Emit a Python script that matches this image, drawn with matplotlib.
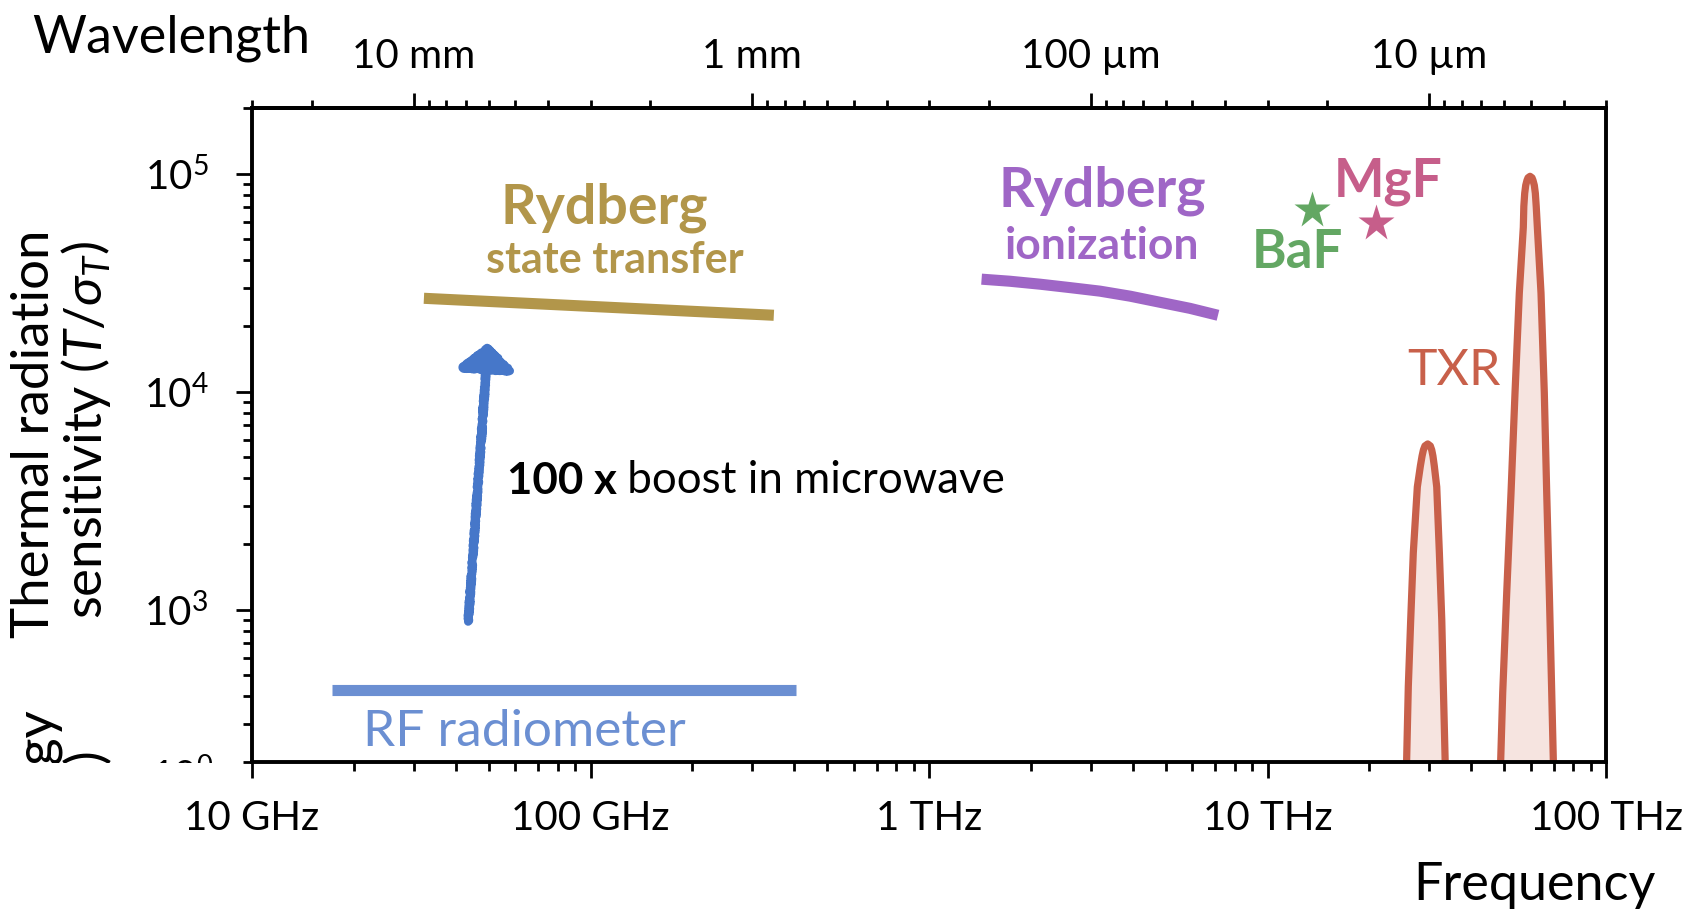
import matplotlib
matplotlib.use("Agg")
import matplotlib.pyplot as plt
from matplotlib.patches import FancyArrowPatch
from matplotlib.transforms import Bbox, TransformedBbox
import numpy as np

plt.rcParams['font.family'] = ['Lato', 'DejaVu Sans']
plt.rcParams['mathtext.fontset'] = 'custom'
plt.rcParams['mathtext.rm'] = 'Lato'
plt.rcParams['mathtext.it'] = 'Lato:italic'
plt.rcParams['mathtext.bf'] = 'Lato:bold'

# ---- data (frequency in Hz, sensitivity T/sigma_T) ----
rf_freq = [1.72e10, 4.05e11]
rf_sens = [430, 430]

ryd_st_freq = [3.22e10, 3.48e11]
ryd_st_sens = [2.68e4, 2.24e4]

ryd_ion_freq = [1.43e12, 1.73e12, 2.13e12, 2.61e12, 3.20e12, 3.93e12, 4.81e12, 5.90e12, 7.14e12]
ryd_ion_sens = [3.28e4, 3.21e4, 3.11e4, 3.00e4, 2.89e4, 2.74e4, 2.57e4, 2.41e4, 2.24e4]

baf_freq, baf_sens = 1.35e13, 6.8e4
mgf_freq, mgf_sens = 2.09e13, 5.92e4

# TXR peaks (THz, T/sigma_T)
txr1_thz = [25.48, 25.78, 26.06, 26.49, 26.96, 27.71, 28.29, 28.62, 28.88, 29.18, 29.74,
            30.27, 30.56, 30.81, 31.10, 31.62, 32.19, 32.72, 33.07, 33.46, 33.87]
txr1_sens = [94, 212, 444, 899, 1823, 3656, 4561, 5070, 5402, 5634, 5754,
             5634, 5402, 5070, 4561, 3656, 1823, 899, 444, 212, 94]
txr2_thz = [48.14, 48.86, 49.53, 50.90, 52.41, 53.85, 55.45, 56.98, 57.18, 57.52, 57.92,
            58.43, 58.84, 59.65, 60.45, 60.86, 61.41, 61.84, 62.21, 62.69, 64.27, 65.73,
            66.81, 68.01, 69.13, 69.88, 70.70]
txr2_sens = [94, 205, 416, 1195, 3432, 9854, 28300, 56750, 70810, 81240, 88400,
             93200, 95700, 97200, 95700, 93200, 88400, 81240, 70810, 56750, 28300, 9854,
             3432, 1195, 416, 205, 94]

# 100x boost arrow (tail -> tip)
arrow_freq = [4.35e10, 4.98e10]
arrow_sens = [881, 1.67e4]

freq_ticks = [1e10, 1e11, 1e12, 1e13, 1e14]
freq_labels = ['10 GHz', '100 GHz', '1 THz', '10 THz', '100 THz']
wl_ticks = [1e4, 1e3, 1e2, 1e1]   # um
wl_labels = ['10 mm', '1 mm', '100 µm', '10 µm']

# colours
c_rf = '#6b8fd2'
c_arrow = '#4677c9'
c_gold = '#b2964a'
c_purple = '#9f66c6'
c_green = '#63a763'
c_pink = '#c65e8a'
c_txr = '#c8604a'
c_fill = '#f6e4e0'

fig = plt.figure(figsize=(16.91, 9.14), dpi=100)
ax = fig.add_axes([252/1691, 152/914, 1354/1691, 654/914])
ax.set_xscale('log')
ax.set_yscale('log')
ax.set_xlim(1e10, 1e14)
ax.set_ylim(200, 2e5)

# lines
ax.plot(rf_freq, rf_sens, color=c_rf, lw=8, solid_capstyle='butt')
ax.plot(ryd_st_freq, ryd_st_sens, color=c_gold, lw=8, solid_capstyle='butt')
ax.plot(ryd_ion_freq, ryd_ion_sens, color=c_purple, lw=8, solid_capstyle='butt')

txr1_freq = np.array(txr1_thz) * 1e12
txr2_freq = np.array(txr2_thz) * 1e12
ax.fill_between(txr1_freq, txr1_sens, 1, color=c_fill, lw=0)
ax.fill_between(txr2_freq, txr2_sens, 1, color=c_fill, lw=0)
ax.plot(txr1_freq, txr1_sens, color=c_txr, lw=5.2, solid_joinstyle='round')
ax.plot(txr2_freq, txr2_sens, color=c_txr, lw=5.2, solid_joinstyle='round')

ax.plot(baf_freq, baf_sens, marker='*', ms=28, color=c_green, mec='none')
ax.plot(mgf_freq, mgf_sens, marker='*', ms=28, color=c_pink, mec='none')

arr = FancyArrowPatch((arrow_freq[0], arrow_sens[0]), (arrow_freq[1], arrow_sens[1]),
                      arrowstyle='-|>,head_length=15,head_width=17', mutation_scale=1,
                      lw=6, color=c_arrow, shrinkA=0, shrinkB=0,
                      joinstyle='round', capstyle='round')
arr.set_sketch_params(scale=1.0, length=3, randomness=2)
ax.add_patch(arr)

# annotations
tx = ax.transAxes
ax.text(0.260, 0.823, 'Rydberg', color=c_gold, fontsize=40, fontweight='bold',
        ha='center', va='baseline', transform=tx)
ax.text(0.268, 0.748, 'state transfer', color=c_gold, fontsize=31, fontweight='bold',
        ha='center', va='baseline', transform=tx)
ax.text(0.628, 0.849, 'Rydberg', color=c_purple, fontsize=40, fontweight='bold',
        ha='center', va='baseline', transform=tx)
ax.text(0.628, 0.769, 'ionization', color=c_purple, fontsize=32, fontweight='bold',
        ha='center', va='baseline', transform=tx)
ax.text(0.839, 0.864, 'MgF', color=c_pink, fontsize=38.5, fontweight='bold',
        ha='center', va='baseline', transform=tx)
ax.text(0.772, 0.755, 'BaF', color=c_green, fontsize=38, fontweight='bold',
        ha='center', va='baseline', transform=tx)
ax.text(0.888, 0.576, 'TXR', color=c_txr, fontsize=36,
        ha='center', va='baseline', transform=tx)
ax.text(0.201, 0.024, 'RF radiometer', color=c_rf, fontsize=37,
        ha='center', va='baseline', transform=tx)
t1 = ax.text(0.188, 0.410, '100 x', color='black', fontsize=31.6, fontweight='bold',
             ha='left', va='baseline', transform=tx)
ax.annotate(' boost in microwave', xy=(1, 0), xycoords=t1, fontsize=31.6,
            ha='left', va='bottom', color='black')

# axes styling
for s in ax.spines.values():
    s.set_linewidth(2.8)
ax.set_xticks(freq_ticks, freq_labels)
ax.tick_params(which='major', direction='out', length=11.5, width=2, labelsize=29)
ax.tick_params(which='minor', direction='out', length=6.5, width=2)
ax.tick_params(axis='x', which='major', pad=16)
ax.tick_params(axis='y', which='major', pad=20)

sec = ax.secondary_xaxis('top', functions=(lambda f: 3e14 / f, lambda l: 3e14 / l))
sec.set_xticks(wl_ticks, wl_labels)
sec.spines['top'].set_linewidth(2.8)
sec.tick_params(which='major', direction='out', length=11, width=2, labelsize=29, pad=13)
sec.tick_params(which='minor', direction='out', length=6, width=2)

# axis titles
fig.text(32/1691, 1 - 53/914, 'Wavelength', fontsize=37.5, ha='left', va='baseline')
fig.text(1413/1691, 1 - 900/914, 'Frequency', fontsize=37.5, ha='left', va='baseline')
fig.text(49/1691, 1 - 434/914, 'Thermal radiation', fontsize=38, rotation=90,
         rotation_mode='anchor', ha='center', va='baseline')
fig.text(102/1691, 1 - 430/914, 'sensitivity ($T/\\sigma_T$)', fontsize=38, rotation=90,
         rotation_mode='anchor', ha='center', va='baseline')

# remnants of a lower panel, cut off at the frame
clip = TransformedBbox(Bbox([[0, 151/914], [1, 1]]), fig.transFigure)
for txt, x, y in [('Energy', 49, 705), ('(arb.)', 102, 747)]:
    t = fig.text(x/1691, 1 - y/914, txt, fontsize=38, rotation=90,
                 rotation_mode='anchor', ha='right', va='baseline')
    t.set_clip_box(clip)
    t.set_clip_on(True)
t = fig.text(213/1691, 1 - 757/914, r'$10^0$', fontsize=28, ha='right', va='top')
t.set_clip_box(clip)
t.set_clip_on(True)

fig.savefig('out.png', dpi=100)
